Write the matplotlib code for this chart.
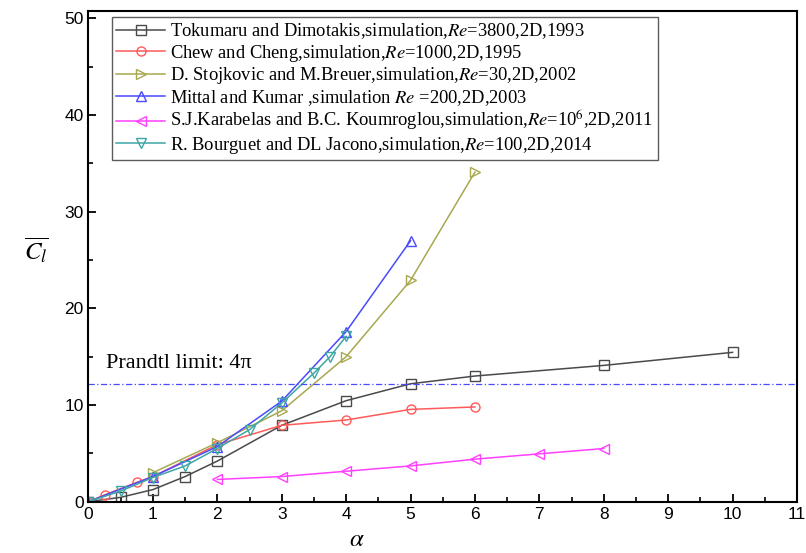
import numpy as np
import matplotlib
matplotlib.use('Agg')
import matplotlib.pyplot as plt

plt.rcParams['mathtext.fontset'] = 'stix'

# data
tok_x = [0, 0.5, 1, 1.5, 2, 3, 4, 5, 6, 8, 10]
tok_y = [0, 0.45, 1.25, 2.6, 4.2, 7.9, 10.45, 12.2, 13.0, 14.1, 15.45]

chew_x = [0, 0.25, 0.75, 1, 2, 3, 4, 5, 6]
chew_y = [0, 0.7, 2.0, 2.6, 5.9, 7.9, 8.45, 9.55, 9.8]

stoj_x = [1, 2, 3, 4, 5, 6]
stoj_y = [3.0, 6.1, 9.4, 15.0, 22.9, 34.1]

mit_x = [0, 1, 2, 3, 4, 5]
mit_y = [0, 2.6, 5.7, 10.4, 17.6, 27.0]

kar_x = [2, 3, 4, 5, 6, 7, 8]
kar_y = [2.3, 2.6, 3.15, 3.7, 4.4, 4.95, 5.5]

bou_x = [0, 0.5, 1, 1.5, 2, 2.5, 3, 3.5, 3.75, 4]
bou_y = [0, 1.1, 2.5, 3.7, 5.5, 7.45, 10.2, 13.3, 15.0, 17.1]

prandtl = 12.2

labels = [
    'Tokumaru and Dimotakis,simulation,$\\mathit{Re}$=3800,2D,1993',
    'Chew and Cheng,simulation,$\\mathit{Re}$=1000,2D,1995',
    'D. Stojkovic and M.Breuer,simulation,$\\mathit{Re}$=30,2D,2002',
    'Mittal and Kumar ,simulation $\\mathit{Re}$ =200,2D,2003',
    'S.J.Karabelas and B.C. Koumroglou,simulation,$\\mathit{Re}$=10$^6$,2D,2011',
    'R. Bourguet and DL Jacono,simulation,$\\mathit{Re}$=100,2D,2014',
]

fig = plt.figure(figsize=(8.06, 5.53), dpi=100)
ax = fig.add_axes([0.1098, 0.0928, 0.879, 0.887])

ms = 6.5
series = [
    (tok_x, tok_y, '#4a4a4a', 's'),
    (chew_x, chew_y, '#ff5a5a', 'o'),
    (stoj_x, stoj_y, '#a8a850', '>'),
    (mit_x, mit_y, '#4a4aff', '^'),
    (kar_x, kar_y, '#ff40ff', '<'),
    (bou_x, bou_y, '#3fa5a5', 'v'),
]
for (x, y, c, m), lab in zip(series, labels):
    ax.plot(x, y, color=c, marker=m, markersize=ms, markerfacecolor='none',
            markeredgecolor=c, lw=1.1, mew=1.0, label=lab)

ax.axhline(prandtl, color='#4a4aff', lw=0.9, ls=(0, (5, 2, 1, 2)))
ax.text(0.27, 13.8, 'Prandtl limit: 4\u03c0', fontsize=16, family='Liberation Serif')

ax.set_xlim(0, 11)
ax.set_ylim(0, 50.75)
ax.set_xticks(range(0, 12))
ax.set_yticks(range(0, 51, 10))
ax.set_xticks(np.arange(0.5, 11, 1), minor=True)
ax.set_yticks(range(5, 50, 10), minor=True)
ax.tick_params(which='major', direction='in', length=6, width=1.3, labelsize=12.5)
ax.tick_params(which='minor', direction='in', length=3.5, width=1.2)
for lab in ax.get_xticklabels() + ax.get_yticklabels():
    lab.set_family('Liberation Sans')
for s in ax.spines.values():
    s.set_linewidth(1.5)

ax.set_xlabel('$\\alpha$', fontsize=18)
ax.xaxis.set_label_coords(0.379, -0.052)
ax.set_ylabel('$\\overline{C_l}$', fontsize=18, rotation=0)
ax.yaxis.set_label_coords(-0.073, 0.48)

leg = ax.legend(loc='upper left', bbox_to_anchor=(0.033, 0.988),
                prop={'family': 'Liberation Serif', 'size': 13.3},
                frameon=True, fancybox=False, edgecolor='#333333',
                handlelength=2.6, handletextpad=0.3, borderpad=0.25,
                labelspacing=0.08, borderaxespad=0)
leg.get_frame().set_linewidth(1.0)

plt.savefig('out.png', dpi=100)
